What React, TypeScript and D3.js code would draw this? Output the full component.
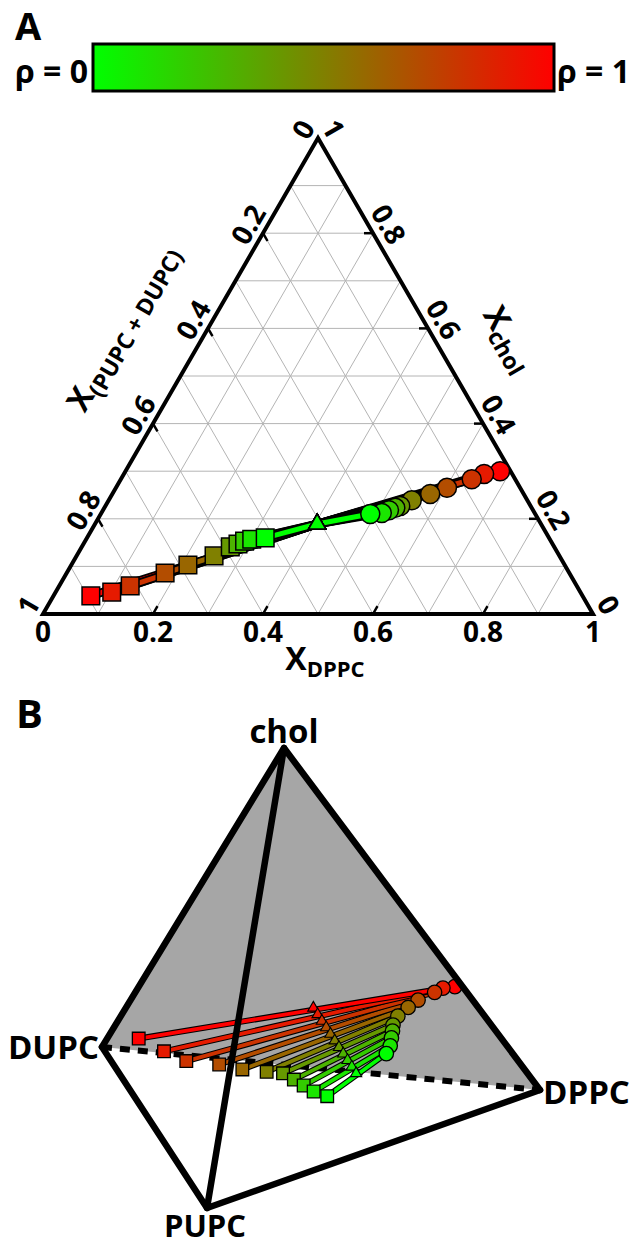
import React from 'react';
import * as d3 from 'd3';

// ρ levels (DUPC fraction of the unsaturated lipid)
const rhoLevels = [0, 0.1, 0.2, 0.3, 0.4, 0.5, 0.6, 0.7, 0.8, 0.9, 1];
// Ld phase (squares): chol and DPPC mole fractions, per ρ
const ldChol = [0.160, 0.157, 0.153, 0.147, 0.141, 0.122, 0.103, 0.086, 0.059, 0.046, 0.038];
const ldDppc = [0.324, 0.301, 0.290, 0.281, 0.270, 0.250, 0.212, 0.179, 0.129, 0.102, 0.068];
// Lo phase (circles)
const loChol = [0.210, 0.212, 0.218, 0.223, 0.227, 0.239, 0.252, 0.265, 0.283, 0.294, 0.300];
const loDppc = [0.490, 0.510, 0.520, 0.529, 0.536, 0.551, 0.578, 0.602, 0.638, 0.655, 0.681];
// tie-line midpoint (triangles), same for every ρ
const midChol = [0.189, 0.189, 0.189, 0.189, 0.189, 0.189, 0.189, 0.189, 0.189, 0.189, 0.189];
const midDppc = [0.404, 0.404, 0.404, 0.404, 0.404, 0.404, 0.404, 0.404, 0.404, 0.404, 0.404];

const tickValues = [0, 0.2, 0.4, 0.6, 0.8, 1];
const tickLabels = ['0', '0.2', '0.4', '0.6', '0.8', '1'];
const inner = [0.2, 0.4, 0.6, 0.8];
const gridValues = [0.1, 0.2, 0.3, 0.4, 0.5, 0.6, 0.7, 0.8, 0.9];

const FONT = "'Open Sans', 'DejaVu Sans', sans-serif";
const color = d3.scaleLinear<string>().domain([0, 1]).range(['rgb(0,255,0)', 'rgb(255,0,0)']).interpolate(d3.interpolateRgb);

// ---- Panel A ternary scales
const xS = d3.scaleLinear().domain([0, 1]).range([43, 593]);
const yS = d3.scaleLinear().domain([0, 1]).range([614, 138]);
const tern = (d: number, c: number): [number, number] => [xS(d + c / 2), yS(c)];

// ---- Panel B tetrahedron vertices (screen)
const vChol: [number, number] = [284, 748];
const vDUPC: [number, number] = [102, 1047];
const vDPPC: [number, number] = [540, 1090];
const vPUPC: [number, number] = [207, 1208];
const proj = (c: number, d: number, r: number): [number, number] => {
  const u = 1 - c - d;
  const a = u * r, b = u * (1 - r);
  return [
    c * vChol[0] + d * vDPPC[0] + a * vDUPC[0] + b * vPUPC[0],
    c * vChol[1] + d * vDPPC[1] + a * vDUPC[1] + b * vPUPC[1],
  ];
};

const line = d3.line();
const sym = (type: d3.SymbolType, size: number) => d3.symbol().type(type).size(size)() as string;

export default function App() {
  const order = rhoLevels.map((_, i) => i).reverse(); // ρ=1 first, ρ=0 last
  const nL: [number, number] = [-0.866, -0.5];
  const nR: [number, number] = [0.866, -0.5];
  const leftPt = (u: number) => tern(0, 1 - u);
  const rightPt = (c: number) => tern(1 - c, c);

  const leftTitlePt = (() => { const p = leftPt(0.477); return [p[0] + nL[0] * 64, p[1] + nL[1] * 64]; })();
  const rightTitlePt = (() => { const p = rightPt(0.51); return [p[0] + nR[0] * 54, p[1] + nR[1] * 54]; })();

  const sqA = sym(d3.symbolSquare, 310);
  const triA = sym(d3.symbolTriangle, 125);
  const sqB = sym(d3.symbolSquare, 160);
  const triB = sym(d3.symbolTriangle, 55);

  return (
    <svg width={636} height={1247} style={{ position: 'absolute', left: 0, top: 0, background: '#fff' }} fontFamily={FONT} fontWeight={700}>
      <defs>
        <linearGradient id="rhoGrad" x1="0" x2="1" y1="0" y2="0">
          {[0, 0.25, 0.5, 0.75, 1].map(t => <stop key={t} offset={t} stopColor={color(t)} />)}
        </linearGradient>
      </defs>

      {/* ===== Panel A header */}
      <text x={15} y={40} fontSize={38}>A</text>
      <rect x={93} y={44} width={461} height={47} fill="url(#rhoGrad)" stroke="#000" strokeWidth={3} />
      <text x={88} y={83} fontSize={32} textAnchor="end">ρ = 0</text>
      <text x={557} y={83} fontSize={32}>ρ = 1</text>

      {/* grid */}
      <g stroke="#b4b4b4" strokeWidth={1} fill="none">
        {gridValues.map(k => <path key={'c' + k} d={line([tern(0, k), tern(1 - k, k)])!} />)}
        {gridValues.map(k => <path key={'d' + k} d={line([tern(k, 0), tern(k, 1 - k)])!} />)}
        {gridValues.map(k => <path key={'u' + k} d={line([tern(1 - k, 0), tern(0, 1 - k)])!} />)}
      </g>
      {/* ticks */}
      <g stroke="#000" strokeWidth={2.5}>
        {inner.map(k => { const p = tern(k, 0); return <line key={'bt' + k} x1={p[0]} y1={p[1]} x2={p[0] + 4.5} y2={p[1] - 7.8} />; })}
        {inner.map(k => { const p = rightPt(k); return <line key={'rt' + k} x1={p[0]} y1={p[1]} x2={p[0] - 9} y2={p[1]} />; })}
        {inner.map(k => { const p = leftPt(k); return <line key={'lt' + k} x1={p[0]} y1={p[1]} x2={p[0] + 4.5} y2={p[1] + 7.8} />; })}
      </g>
      {/* triangle frame */}
      <path d={line([tern(0, 0), tern(1, 0), tern(0, 1)])! + 'Z'} fill="none" stroke="#000" strokeWidth={4} strokeLinejoin="miter" />

      {/* tick labels */}
      <g fontSize={28}>
        {tickValues.map((k, i) => <text key={'bl' + k} x={xS(k)} y={642} textAnchor="middle">{tickLabels[i]}</text>)}
        {tickValues.map((k, i) => {
          const p = leftPt(k); const x = p[0] + nL[0] * 17, y = p[1] + nL[1] * 17;
          return <text key={'ll' + k} transform={`translate(${x},${y}) rotate(-60)`} textAnchor="middle" dy="0.36em">{tickLabels[i]}</text>;
        })}
        {tickValues.map((k, i) => {
          const p = rightPt(k); const x = p[0] + nR[0] * 18, y = p[1] + nR[1] * 18;
          return <text key={'rl' + k} transform={`translate(${x},${y}) rotate(60)`} textAnchor="middle" dy="0.36em">{tickLabels[i]}</text>;
        })}
      </g>

      {/* axis titles */}
      <text x={325} y={670} textAnchor="middle" fontSize={32}>X<tspan fontSize={22} dy={7}>DPPC</tspan></text>
      <text transform={`translate(${leftTitlePt[0]},${leftTitlePt[1]}) rotate(-60)`} textAnchor="middle" fontSize={32}>X<tspan fontSize={23} dy={7}>(PUPC + DUPC)</tspan></text>
      <text transform={`translate(${rightTitlePt[0]},${rightTitlePt[1]}) rotate(60)`} textAnchor="middle" fontSize={32}>X<tspan fontSize={23} dy={7}>chol</tspan></text>

      {/* tie lines A */}
      {order.map(i => {
        const pts = [tern(ldDppc[i], ldChol[i]), tern(midDppc[i], midChol[i]), tern(loDppc[i], loChol[i])];
        return (
          <g key={'tlA' + i}>
            <path d={line(pts)!} stroke="#000" strokeWidth={8.5} fill="none" />
            <path d={line(pts)!} stroke={color(rhoLevels[i])} strokeWidth={5} fill="none" />
          </g>
        );
      })}
      {order.map(i => { const p = tern(ldDppc[i], ldChol[i]); return <path key={'sA' + i} d={sqA} transform={`translate(${p[0]},${p[1]})`} fill={color(rhoLevels[i])} stroke="#000" strokeWidth={1.5} />; })}
      {order.map(i => { const p = tern(loDppc[i], loChol[i]); return <circle key={'cA' + i} cx={p[0]} cy={p[1]} r={9.5} fill={color(rhoLevels[i])} stroke="#000" strokeWidth={1.5} />; })}
      {order.map(i => { const p = tern(midDppc[i], midChol[i]); return <path key={'tA' + i} d={triA} transform={`translate(${p[0]},${p[1]})`} fill={color(rhoLevels[i])} stroke="#000" strokeWidth={1.5} />; })}

      {/* ===== Panel B */}
      <text x={16} y={728} fontSize={40}>B</text>
      <path d={line([vChol, vDUPC, vDPPC])! + 'Z'} fill="#a6a6a6" stroke="none" />
      <path d={line([vDUPC, vDPPC])!} stroke="#000" strokeWidth={6} strokeDasharray="10,8" fill="none" />

      {rhoLevels.map((r, i) => {
        const pts = [proj(ldChol[i], ldDppc[i], r), proj(loChol[i], loDppc[i], r)];
        return (
          <g key={'tlB' + i}>
            <path d={line(pts)!} stroke="#000" strokeWidth={6} fill="none" />
            <path d={line(pts)!} stroke={color(r)} strokeWidth={3.8} fill="none" />
          </g>
        );
      })}
      <path d={line(rhoLevels.map((r, i) => proj(midChol[i], midDppc[i], r)))!} stroke="#000" strokeWidth={3} fill="none" />
      {order.map(i => { const p = proj(ldChol[i], ldDppc[i], rhoLevels[i]); return <path key={'sB' + i} d={sqB} transform={`translate(${p[0]},${p[1]})`} fill={color(rhoLevels[i])} stroke="#000" strokeWidth={1.3} />; })}
      {order.map(i => { const p = proj(loChol[i], loDppc[i], rhoLevels[i]); return <circle key={'cB' + i} cx={p[0]} cy={p[1]} r={7.2} fill={color(rhoLevels[i])} stroke="#000" strokeWidth={1.3} />; })}
      {order.map(i => { const p = proj(midChol[i], midDppc[i], rhoLevels[i]); return <path key={'tB' + i} d={triB} transform={`translate(${p[0]},${p[1]})`} fill={color(rhoLevels[i])} stroke="#000" strokeWidth={1.1} />; })}

      <g stroke="#000" strokeWidth={6.5} fill="none" strokeLinejoin="round" strokeLinecap="round">
        <path d={line([vDUPC, vChol, vDPPC])!} />
        <path d={line([vDUPC, vPUPC, vDPPC])!} />
        <path d={line([vChol, vPUPC])!} />
      </g>

      <text x={284} y={743} textAnchor="middle" fontSize={33}>chol</text>
      <text x={99} y={1059} textAnchor="end" fontSize={33}>DUPC</text>
      <text x={543} y={1104} fontSize={33}>DPPC</text>
      <text x={205} y={1237} textAnchor="middle" fontSize={31}>PUPC</text>
    </svg>
  );
}
